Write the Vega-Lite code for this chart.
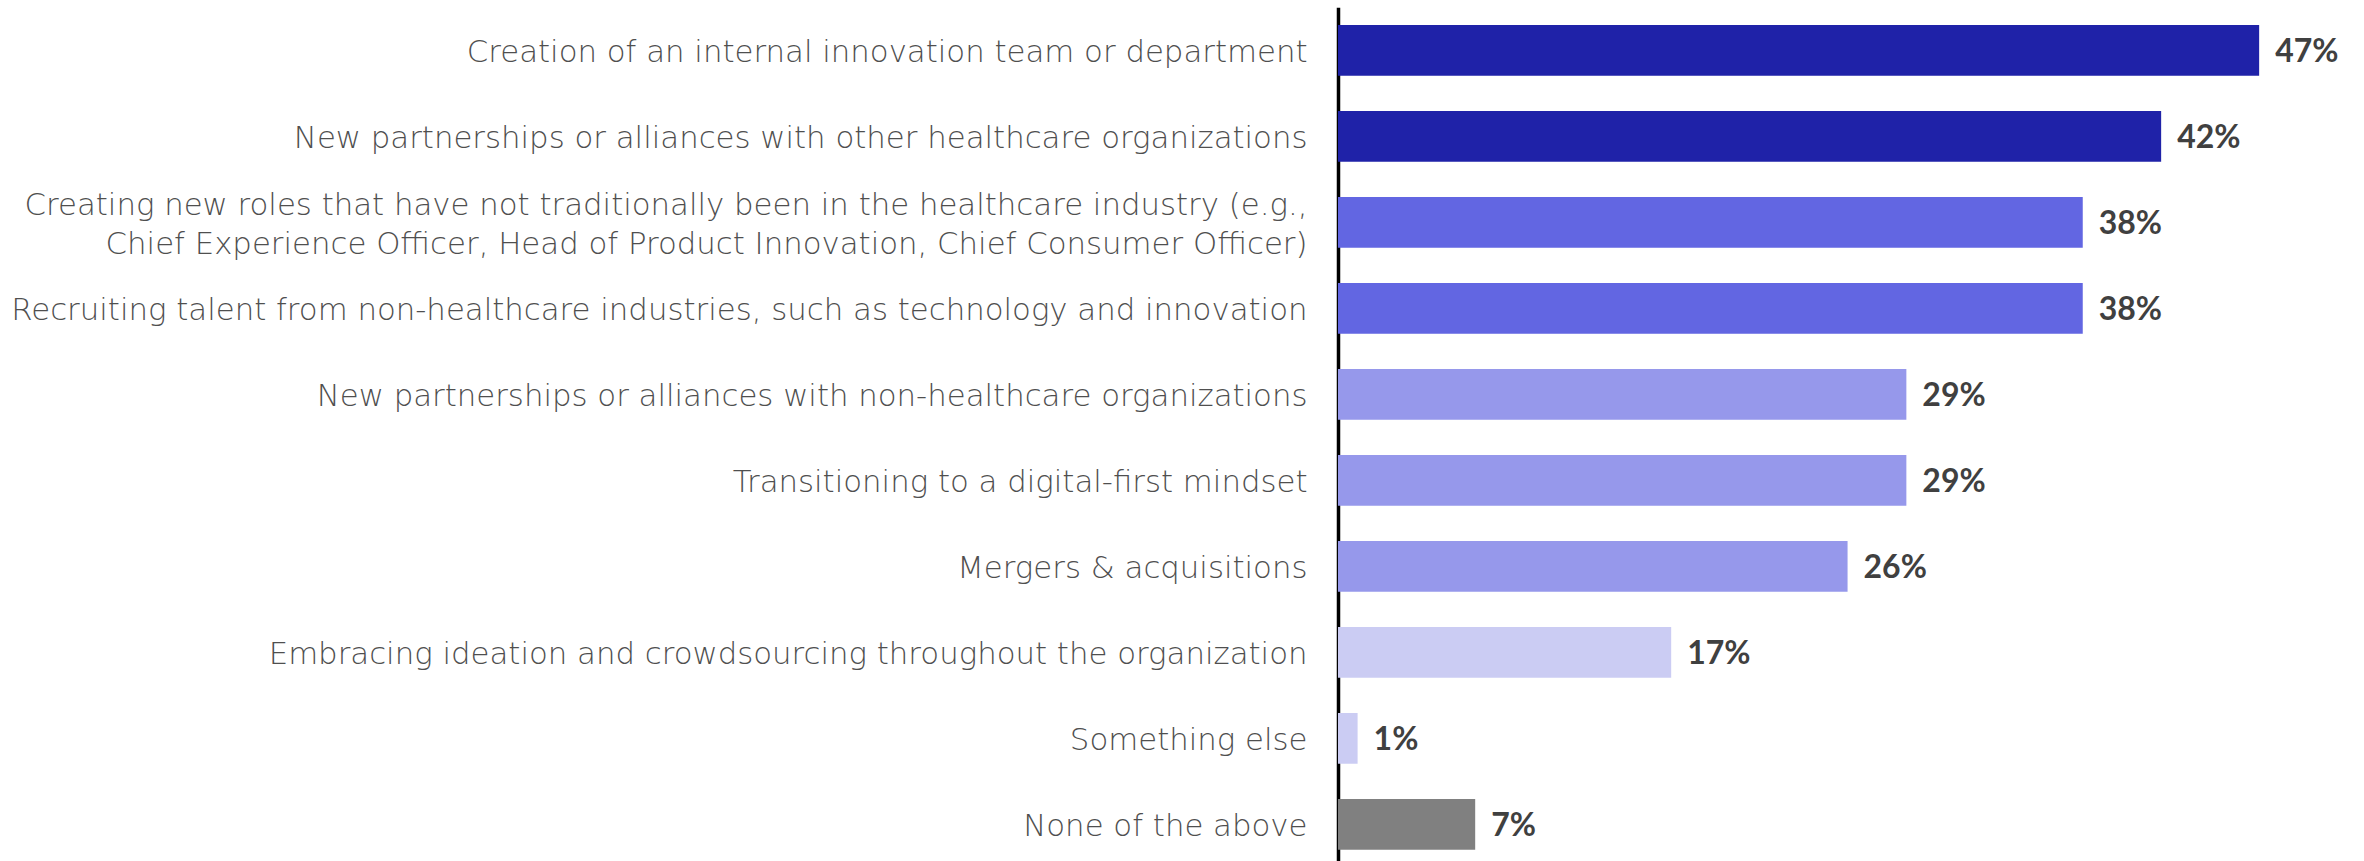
{
  "$schema": "https://vega.github.io/schema/vega-lite/v6.json",
  "autosize": {"type": "none"},
  "padding": {"left": 1338, "top": 7.3, "right": 0, "bottom": 0},
  "width": 1026,
  "height": 860,
  "background": "white",
  "config": {"view": {"stroke": null}},
  "data": {
    "values": [
      {"item": "Creation of an internal innovation team or department", "pct": 0.47, "tier": "A"},
      {"item": "New partnerships or alliances with other healthcare organizations", "pct": 0.42, "tier": "A"},
      {"item": "Creating new roles that have not traditionally been in the healthcare industry (e.g.,|Chief Experience Officer, Head of Product Innovation, Chief Consumer Officer)", "pct": 0.38, "tier": "B"},
      {"item": "Recruiting talent from non-healthcare industries, such as technology and innovation", "pct": 0.38, "tier": "B"},
      {"item": "New partnerships or alliances with non-healthcare organizations", "pct": 0.29, "tier": "C"},
      {"item": "Transitioning to a digital-first mindset", "pct": 0.29, "tier": "C"},
      {"item": "Mergers & acquisitions", "pct": 0.26, "tier": "C"},
      {"item": "Embracing ideation and crowdsourcing throughout the organization", "pct": 0.17, "tier": "D"},
      {"item": "Something else", "pct": 0.01, "tier": "D"},
      {"item": "None of the above", "pct": 0.07, "tier": "E"}
    ]
  },
  "encoding": {
    "y": {
      "field": "item",
      "type": "nominal",
      "sort": null,
      "scale": {"paddingInner": 0.41, "paddingOuter": 0.205},
      "axis": {
        "title": null,
        "ticks": false,
        "grid": false,
        "domain": true,
        "domainColor": "#000000",
        "domainWidth": 3.5,
        "labelFont": "DejaVu Sans",
        "labelFontSize": 30.8,
        "labelFontWeight": 200,
        "labelColor": "#4f4f4f",
        "labelPadding": 31,
        "labelLimit": 0,
        "labelLineHeight": 39,
        "labelAlign": "right",
        "labelBaseline": "middle",
        "labelOffset": {"condition": {"test": "length(datum.value) > 120", "value": -16.5}, "value": 3},
        "labelExpr": "split(datum.label, '|')"
      }
    },
    "x": {
      "field": "pct",
      "type": "quantitative",
      "scale": {"domain": [0, 0.5235], "nice": false, "zero": true},
      "axis": null
    }
  },
  "layer": [
    {
      "mark": {"type": "bar", "cornerRadius": 0},
      "encoding": {
        "color": {
          "field": "tier",
          "type": "nominal",
          "scale": {"domain": ["A", "B", "C", "D", "E"], "range": ["#1F22A8", "#6266E2", "#9698EB", "#CBCCF3", "#808080"]},
          "legend": null
        }
      }
    },
    {
      "mark": {"type": "text", "align": "left", "baseline": "middle", "dx": 16, "dy": 2, "font": "Lato", "fontWeight": "bold", "fontSize": 32, "color": "#404040"},
      "encoding": {
        "text": {"field": "pct", "type": "quantitative", "format": ".0%"}
      }
    }
  ]
}
